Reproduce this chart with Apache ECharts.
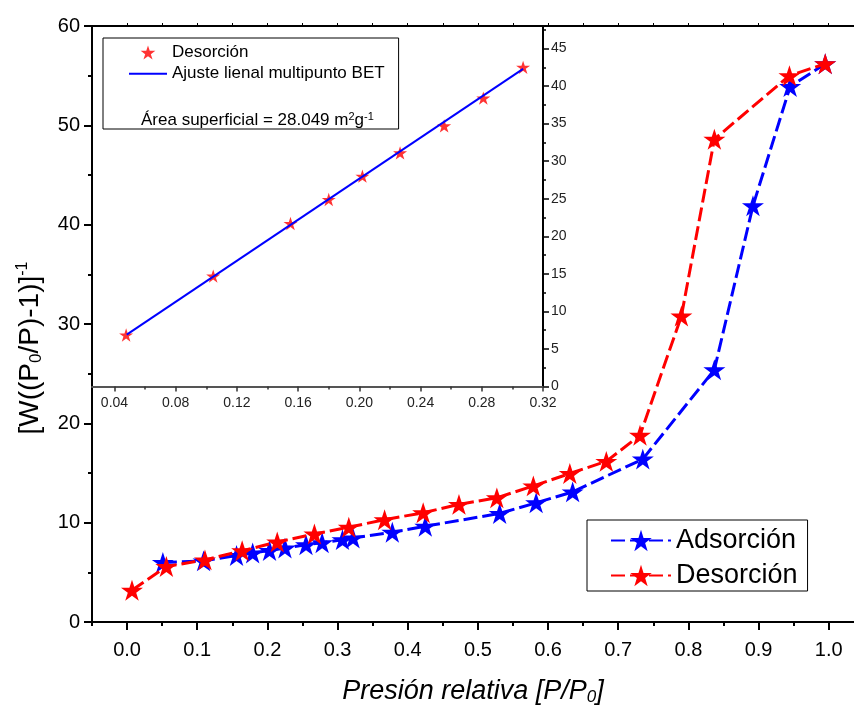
<!DOCTYPE html>
<html><head><meta charset="utf-8">
<script src="https://cdn.jsdelivr.net/npm/echarts@6/dist/echarts.min.js"></script>
<style>html,body{margin:0;padding:0;background:#fff}#c{width:854px;height:707px}</style>
</head><body><div id="c"></div>
<script>
// ---- data ----
const adsX = [0.051,0.109,0.156,0.179,0.203,0.225,0.255,0.278,0.307,0.322,0.378,0.425,0.531,0.583,0.635,0.735,0.837,0.892,0.945,0.995];
const adsY = [6.0,6.15,6.7,6.94,7.2,7.44,7.78,7.98,8.29,8.46,9.03,9.64,10.93,12.0,13.1,16.4,25.4,41.9,53.9,56.2];
const desX = [0.007,0.056,0.111,0.164,0.214,0.267,0.316,0.367,0.422,0.473,0.527,0.579,0.631,0.683,0.731,0.790,0.837,0.944,0.995];
const desY = [3.2,5.58,6.25,7.17,8.05,8.86,9.54,10.3,11.0,11.84,12.5,13.7,14.95,16.17,18.8,30.8,48.6,55.0,56.2];
const betX = [0.0476,0.1045,0.155,0.180,0.202,0.2266,0.2554,0.281,0.307];
const betY = [6.86,14.7,21.7,24.9,28.0,31.1,34.7,38.4,42.5];
const fitX = [0.048,0.307];
const fitY = [6.9,42.3];
// ---- tick values ----
const mainXTicks = [0,0.1,0.2,0.3,0.4,0.5,0.6,0.7,0.8,0.9,1.0];
const mainXMinor = [-0.05,0.05,0.15,0.25,0.35,0.45,0.55,0.65,0.75,0.85,0.95];
const topXTicks = [0,0.05,0.1,0.15,0.2,0.25,0.3,0.35,0.4,0.45,0.5,0.55,0.6,0.65,0.7,0.75,0.8,0.85,0.9,0.95,1.0];
const insetXTicks = [0.04,0.08,0.12,0.16,0.20,0.24,0.28,0.32];
const insetXMinor = [0.06,0.10,0.14,0.18,0.22,0.26,0.30];
const insetYTicks = [0,5,10,15,20,25,30,35,40,45];
const insetYMinor = [2.5,7.5,12.5,17.5,22.5,27.5,32.5,37.5,42.5,47.5];

const FONT = "'Liberation Sans', Arial, Helvetica, sans-serif";
const STAR = 'path://M50,0 L61.2,34.5 L97.6,34.5 L68.2,55.9 L79.4,90.5 L50,69.1 L20.6,90.5 L31.8,55.9 L2.4,34.5 L38.8,34.5 Z';
const LINE_ICON = 'path://M0,0 M0,6.2 L38,6.2 L38,8.2 L0,8.2 Z M38,14';
const pairs = (xs, ys) => xs.map((x, i) => [x, ys[i]]);

const chart = echarts.init(document.getElementById('c'), null, {renderer: 'canvas'});
const blk = '#000';
const option = {
  animation: false,
  backgroundColor: '#fff',
  textStyle: {fontFamily: FONT},
  grid: [
    {left: 92, right: 0, top: 26, bottom: 85, containLabel: false, outerBoundsMode: 'none'},
    {left: 92, width: 451, top: 26, height: 360.5, containLabel: false, outerBoundsMode: 'none'}
  ],
  xAxis: [
    {type: 'value', gridIndex: 0, position: 'bottom', min: -0.05, max: 1.036,
     axisLine: {onZero: false, lineStyle: {color: blk, width: 2}},
     axisTick: {show: true, inside: false, length: 8, customValues: mainXTicks, lineStyle: {color: blk, width: 2}},
     axisLabel: {customValues: mainXTicks, formatter: v => v.toFixed(1), fontSize: 20, color: blk, margin: 18, fontFamily: FONT},
     splitLine: {show: false},
     name: '{a|Presión relativa [P/P}{s|0}{a|]}', nameLocation: 'middle', nameGap: 54,
     nameTextStyle: {rich: {
       a: {fontSize: 27, fontStyle: 'italic', color: blk, fontFamily: FONT},
       s: {fontSize: 17, fontStyle: 'italic', color: blk, fontFamily: FONT, verticalAlign: 'bottom', padding: [13, 0, 0, 0]}
     }}},
    {type: 'value', gridIndex: 0, position: 'bottom', min: -0.05, max: 1.036,
     axisLine: {show: false, onZero: false},
     axisTick: {show: true, inside: false, length: 4, customValues: mainXMinor, lineStyle: {color: blk, width: 2}},
     axisLabel: {show: false}, splitLine: {show: false}},
    {type: 'value', gridIndex: 0, position: 'top', min: -0.05, max: 1.036,
     axisLine: {onZero: false, lineStyle: {color: blk, width: 2}},
     axisTick: {show: true, inside: false, length: 3, customValues: topXTicks, lineStyle: {color: blk, width: 1}},
     axisLabel: {show: false}, splitLine: {show: false}},
    {type: 'value', gridIndex: 1, position: 'bottom', min: 0.0253, max: 0.32,
     axisLine: {onZero: false, lineStyle: {color: '#555', width: 2}},
     axisTick: {show: true, inside: false, length: 5, customValues: insetXTicks, lineStyle: {color: '#333', width: 1.5}},
     axisLabel: {customValues: insetXTicks, formatter: v => v.toFixed(2), fontSize: 14, color: '#222', margin: 10, fontFamily: FONT},
     splitLine: {show: false}},
    {type: 'value', gridIndex: 1, position: 'bottom', min: 0.0253, max: 0.32,
     axisLine: {show: false, onZero: false},
     axisTick: {show: true, inside: false, length: 3, customValues: insetXMinor, lineStyle: {color: '#333', width: 1.5}},
     axisLabel: {show: false}, splitLine: {show: false}}
  ],
  yAxis: [
    {type: 'value', gridIndex: 0, position: 'left', min: 0, max: 60, interval: 10,
     axisLine: {show: true, onZero: false, lineStyle: {color: blk, width: 2}},
     axisTick: {show: true, inside: false, length: 8, lineStyle: {color: blk, width: 2}},
     minorTick: {show: true, splitNumber: 2, length: 4, lineStyle: {color: blk, width: 2}},
     axisLabel: {fontSize: 20, color: blk, margin: 12, fontFamily: FONT},
     splitLine: {show: false}, minorSplitLine: {show: false},
     name: '{a|[W((P}{s|0}{a|/P)-1)]}{p|-1}', nameLocation: 'middle', nameGap: 47, nameRotate: 90,
     nameTextStyle: {padding: [0, 48, 0, 0], rich: {
       a: {fontSize: 28, color: blk, fontFamily: FONT},
       s: {fontSize: 17, color: blk, fontFamily: FONT, verticalAlign: 'bottom', padding: [12, 0, 0, 0]},
       p: {fontSize: 16, color: blk, fontFamily: FONT, verticalAlign: 'top', padding: [0, 0, 14, 0]}
     }}},
    {type: 'value', gridIndex: 1, position: 'right', min: 0, max: 48,
     axisLine: {show: true, onZero: false, lineStyle: {color: blk, width: 2}},
     axisTick: {show: true, inside: false, length: 6, customValues: insetYTicks, lineStyle: {color: blk, width: 1.5}},
     axisLabel: {customValues: insetYTicks, fontSize: 14, color: '#222', margin: 8, fontFamily: FONT},
     splitLine: {show: false}},
    {type: 'value', gridIndex: 1, position: 'right', min: 0, max: 48,
     axisLine: {show: false, onZero: false},
     axisTick: {show: true, inside: false, length: 3, customValues: insetYMinor, lineStyle: {color: blk, width: 1.5}},
     axisLabel: {show: false}, splitLine: {show: false}}
  ],
  legend: [
    {data: ['Adsorción', 'Desorción'], orient: 'vertical', left: 587, top: 520,
     itemWidth: 60, itemHeight: 27, itemGap: 8, padding: [7, 10, 2, 23],
     borderColor: blk, borderWidth: 1, backgroundColor: '#fff',
     textStyle: {fontSize: 27, color: blk, fontFamily: FONT}, selectedMode: false},
    {data: ['Desorción (BET)', {name: 'Ajuste lienal multipunto BET', icon: LINE_ICON}], orient: 'vertical', left: 103, top: 38,
     itemWidth: 38, itemHeight: 14, itemGap: 4, padding: [6, 14, 47, 26],
     borderColor: blk, borderWidth: 1, backgroundColor: '#fff',
     formatter: n => n === 'Desorción (BET)' ? 'Desorción' : n,
     textStyle: {fontSize: 17, color: blk, fontFamily: FONT}, selectedMode: false}
  ],
  title: {text: '{a|Área superficial = 28.049 m}{p|2}{a|g}{p|-1}', left: 141, top: 111, padding: 0,
    textStyle: {fontWeight: 'normal', rich: {
      a: {fontSize: 17, fontWeight: 'normal', color: blk, fontFamily: FONT},
      p: {fontSize: 11, fontWeight: 'normal', color: blk, fontFamily: FONT, verticalAlign: 'top', padding: [0, 0, 7, 0]}
    }}},
  series: [
    {name: 'Adsorción', type: 'line', xAxisIndex: 0, yAxisIndex: 0, data: pairs(adsX, adsY),
     symbol: STAR, symbolSize: 22, symbolKeepAspect: true, showSymbol: true,
     lineStyle: {color: '#0000ff', width: 3, type: [14, 5]}, itemStyle: {color: '#0000ff'}, z: 3},
    {name: 'Desorción', type: 'line', xAxisIndex: 0, yAxisIndex: 0, data: pairs(desX, desY),
     symbol: STAR, symbolSize: 22, symbolKeepAspect: true, showSymbol: true,
     lineStyle: {color: '#ff0000', width: 3, type: [14, 5]}, itemStyle: {color: '#ff0000'}, z: 4},
    {name: 'Desorción (BET)', type: 'scatter', xAxisIndex: 3, yAxisIndex: 1, data: pairs(betX, betY),
     symbol: STAR, symbolSize: 14, symbolKeepAspect: true, itemStyle: {color: '#ff0000'}, z: 3},
    {name: 'Ajuste lienal multipunto BET', type: 'line', xAxisIndex: 3, yAxisIndex: 1, data: pairs(fitX, fitY),
     symbol: 'none', lineStyle: {color: '#0000ff', width: 2}, itemStyle: {color: '#0000ff'}, z: 5}
  ]
};
chart.setOption(option);
</script>
</body></html>
